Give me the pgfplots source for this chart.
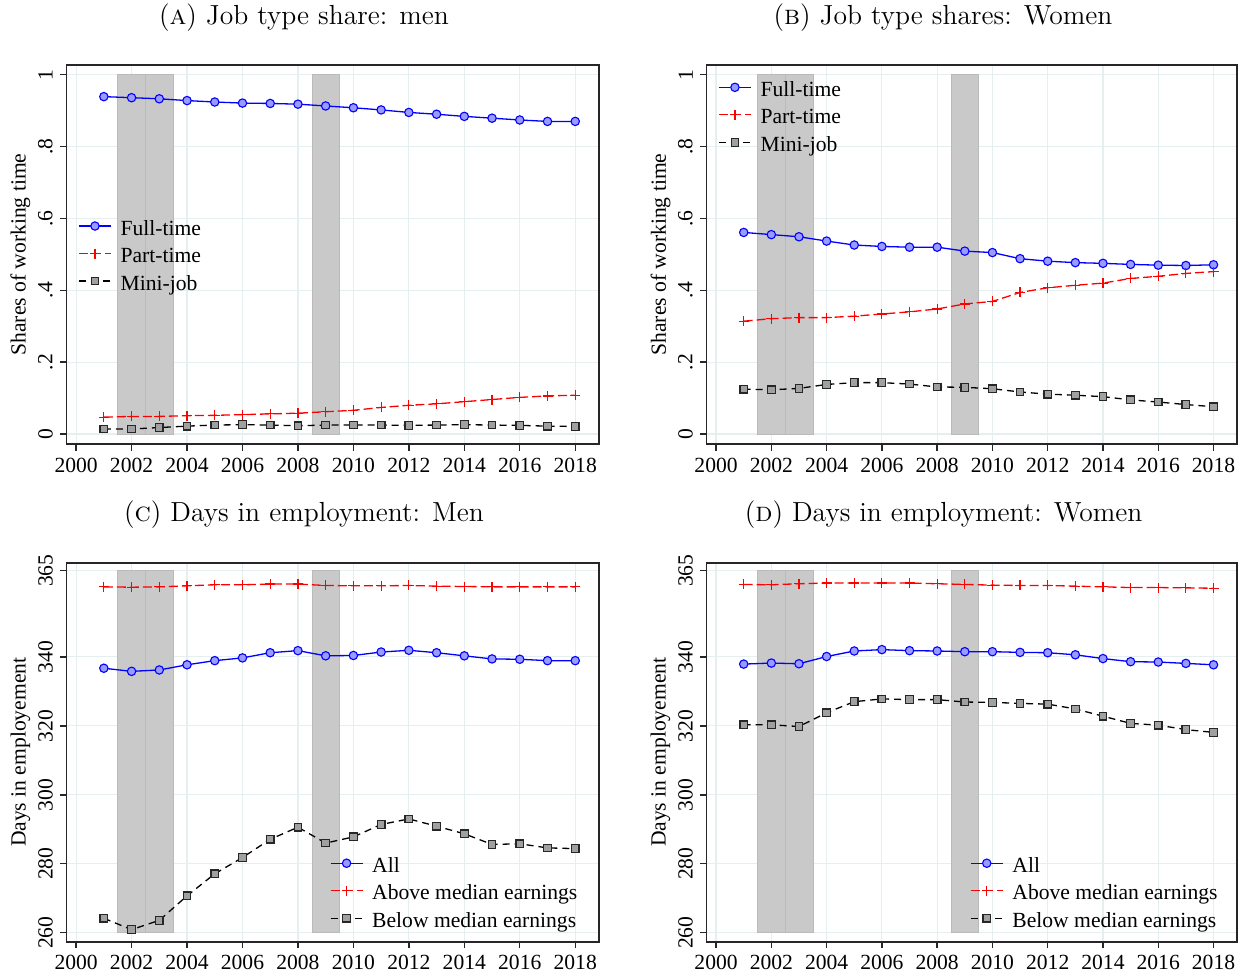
\documentclass[border=0pt]{standalone}
\usepackage{fontspec}
\usepackage{pgfplots}
\usepackage{pgfplotstable}
\pgfplotsset{compat=1.18}
\newfontfamily\tnr{Liberation Serif}
\newcommand\tf{\fontsize{10.8}{13}\selectfont\tnr}
\definecolor{gridc}{HTML}{E6EFF0}
\definecolor{bandc}{HTML}{C9C9C9}
\definecolor{banded}{HTML}{BABABA}
\definecolor{circfill}{HTML}{9A9AFF}
\definecolor{sqfill}{HTML}{A0A0A0}

\pgfplotstableread{
year ft pt mj
2001 0.939 0.047 0.014
2002 0.936 0.049 0.014
2003 0.933 0.049 0.018
2004 0.928 0.051 0.022
2005 0.924 0.052 0.025
2006 0.921 0.054 0.026
2007 0.920 0.056 0.025
2008 0.918 0.058 0.023
2009 0.913 0.062 0.025
2010 0.908 0.066 0.025
2011 0.902 0.074 0.025
2012 0.895 0.080 0.024
2013 0.890 0.084 0.025
2014 0.884 0.090 0.026
2015 0.879 0.096 0.025
2016 0.874 0.102 0.024
2017 0.870 0.106 0.022
2018 0.870 0.108 0.021
}\tabA
\pgfplotstableread{
year ft pt mj
2001 0.561 0.314 0.125
2002 0.555 0.321 0.123
2003 0.549 0.324 0.127
2004 0.537 0.324 0.138
2005 0.526 0.328 0.143
2006 0.522 0.334 0.143
2007 0.520 0.340 0.139
2008 0.520 0.348 0.131
2009 0.509 0.362 0.130
2010 0.505 0.369 0.126
2011 0.488 0.394 0.117
2012 0.481 0.407 0.111
2013 0.477 0.414 0.108
2014 0.475 0.420 0.104
2015 0.472 0.433 0.095
2016 0.470 0.439 0.089
2017 0.469 0.447 0.082
2018 0.471 0.452 0.076
}\tabB
\pgfplotstableread{
year all above below
2001 336.7 360.3 264.2
2002 335.8 360.2 260.9
2003 336.2 360.3 263.6
2004 337.7 360.6 270.7
2005 338.9 360.9 277.1
2006 339.7 360.9 281.8
2007 341.2 361.1 287.1
2008 341.8 361.1 290.6
2009 340.3 360.7 286.0
2010 340.4 360.6 287.8
2011 341.4 360.6 291.4
2012 341.9 360.7 293.0
2013 341.2 360.5 290.9
2014 340.3 360.4 288.7
2015 339.4 360.3 285.6
2016 339.3 360.3 285.8
2017 338.9 360.3 284.6
2018 338.9 360.3 284.4
}\tabC
\pgfplotstableread{
year all above below
2001 337.9 361.0 320.3
2002 338.2 360.9 320.3
2003 338.0 361.2 319.8
2004 340.1 361.4 323.8
2005 341.7 361.4 327.0
2006 342.1 361.4 327.8
2007 341.8 361.4 327.6
2008 341.7 361.2 327.6
2009 341.5 361.0 326.9
2010 341.5 360.8 326.8
2011 341.3 360.7 326.5
2012 341.2 360.7 326.3
2013 340.6 360.5 324.9
2014 339.5 360.3 322.8
2015 338.6 360.1 320.7
2016 338.5 360.1 320.2
2017 338.1 360.0 318.9
2018 337.7 359.9 318.1
}\tabD

\pgfplotsset{
  panel/.style={
    height=189.5pt, scale only axis,
    xmin=1999.65, xmax=2018.85,
    xtick={2000,2002,...,2018},
    grid=major, major grid style={gridc, line width=0.6pt},
    tick align=outside, tick pos=left,
    major tick length=3.3pt,
    tick style={black!85, line width=0.7pt},
    axis line style={black!85, line width=0.8pt},
    ticklabel style={font=\tf},
    /pgf/number format/assume math mode=true,
    x tick label style={/pgf/number format/1000 sep={}},
    yticklabel style={rotate=90, anchor=south},
    label style={font=\tf},
    legend cell align=left,
    legend style={draw=none, fill=none, inner sep=0pt, outer sep=0pt, font=\tf, row sep=2.75pt,
      nodes={inner sep=0pt, text height=8pt, text depth=3pt}},
    legend image code/.code={\draw[mark repeat=2,mark phase=2,##1] plot coordinates {(0pt,2pt) (8pt,2pt) (16pt,2pt)}; \path (20.5pt,2pt);},
  },
  sharepanel/.style={panel, ymin=-0.0278, ymax=1.027, ytick={0,0.2,0.4,0.6,0.8,1},
    yticklabels={0,.2,.4,.6,.8,1}, ylabel={Shares of working time},
    ylabel style={at={(axis description cs:-0.0864,0.5)}, anchor=center}},
  daypanel/.style={panel, ymin=257.4, ymax=367.3, ytick={260,280,300,320,340,365},
    ylabel={Days in employement},
    ylabel style={at={(axis description cs:-0.0864,0.5)}, anchor=center}},
  ser1/.style={blue, line width=0.65pt, mark=*, mark size=2.1pt, mark options={solid, draw=blue, fill=circfill, line width=0.55pt}},
  ser2/.style={red, line width=0.65pt, dash pattern=on 4.5pt off 2pt, mark=+, mark size=2.5pt, mark options={solid, line width=0.6pt}},
  ser3/.style={black, line width=0.65pt, dash pattern=on 3.5pt off 2.5pt, mark=square*, mark size=1.9pt, mark options={solid, draw=black!85, fill=sqfill, line width=0.6pt}},
  band/.style={fill=bandc, draw=banded, line width=0.3pt, forget plot},
}
\newcommand\bands[2]{%
  \addplot[band] coordinates {(2001.5,#1) (2001.5,#2) (2002.5,#2) (2002.5,#1)} --cycle;
  \addplot[band] coordinates {(2002.5,#1) (2002.5,#2) (2003.5,#2) (2003.5,#1)} --cycle;
  \addplot[band] coordinates {(2008.5,#1) (2008.5,#2) (2009.5,#2) (2009.5,#1)} --cycle;
}
\newcommand\ttl{\fontsize{13.8}{16}\selectfont}

\begin{document}
\begin{tikzpicture}
\path[use as bounding box] (0,0) rectangle (620.5pt,-487.5pt);

\node[anchor=base, font=\ttl] at (152pt,-12pt) {(\textsc{a})\ Job type share: men};
\node[anchor=base, font=\ttl] at (471.5pt,-12pt) {(\textsc{b})\ Job type shares: Women};
\node[anchor=base, font=\ttl] at (152pt,-260.8pt) {(\textsc{c})\ Days in employment: Men};
\node[anchor=base, font=\ttl] at (471.8pt,-260.8pt) {(\textsc{d})\ Days in employment: Women};

\begin{axis}[sharepanel, width=266.2pt, at={(33.2pt,-32.5pt)}, anchor=north west,
  legend style={at={(axis description cs:0.0224,0.492)}, anchor=west}]
\bands{0}{1}
\addplot[ser1] table[x=year,y=ft] {\tabA};
\addplot[ser2] table[x=year,y=pt] {\tabA};
\addplot[ser3] table[x=year,y=mj] {\tabA};
\legend{Full-time, Part-time, Mini-job}
\end{axis}

\begin{axis}[sharepanel, width=265.3pt, at={(353.2pt,-32.5pt)}, anchor=north west,
  legend style={at={(axis description cs:0.0224,0.858)}, anchor=west}]
\bands{0}{1}
\addplot[ser1] table[x=year,y=ft] {\tabB};
\addplot[ser2] table[x=year,y=pt] {\tabB};
\addplot[ser3] table[x=year,y=mj] {\tabB};
\legend{Full-time, Part-time, Mini-job}
\end{axis}

\begin{axis}[daypanel, width=266.2pt, at={(33.2pt,-281.35pt)}, anchor=north west,
  legend style={at={(axis description cs:0.495,0.124)}, anchor=west}]
\bands{260}{365}
\addplot[ser1] table[x=year,y=all] {\tabC};
\addplot[ser2] table[x=year,y=above] {\tabC};
\addplot[ser3] table[x=year,y=below] {\tabC};
\legend{All, Above median earnings, Below median earnings}
\end{axis}

\begin{axis}[daypanel, width=265.3pt, at={(353.2pt,-281.35pt)}, anchor=north west,
  legend style={at={(axis description cs:0.497,0.124)}, anchor=west}]
\bands{260}{365}
\addplot[ser1] table[x=year,y=all] {\tabD};
\addplot[ser2] table[x=year,y=above] {\tabD};
\addplot[ser3] table[x=year,y=below] {\tabD};
\legend{All, Above median earnings, Below median earnings}
\end{axis}
\end{tikzpicture}
\end{document}
